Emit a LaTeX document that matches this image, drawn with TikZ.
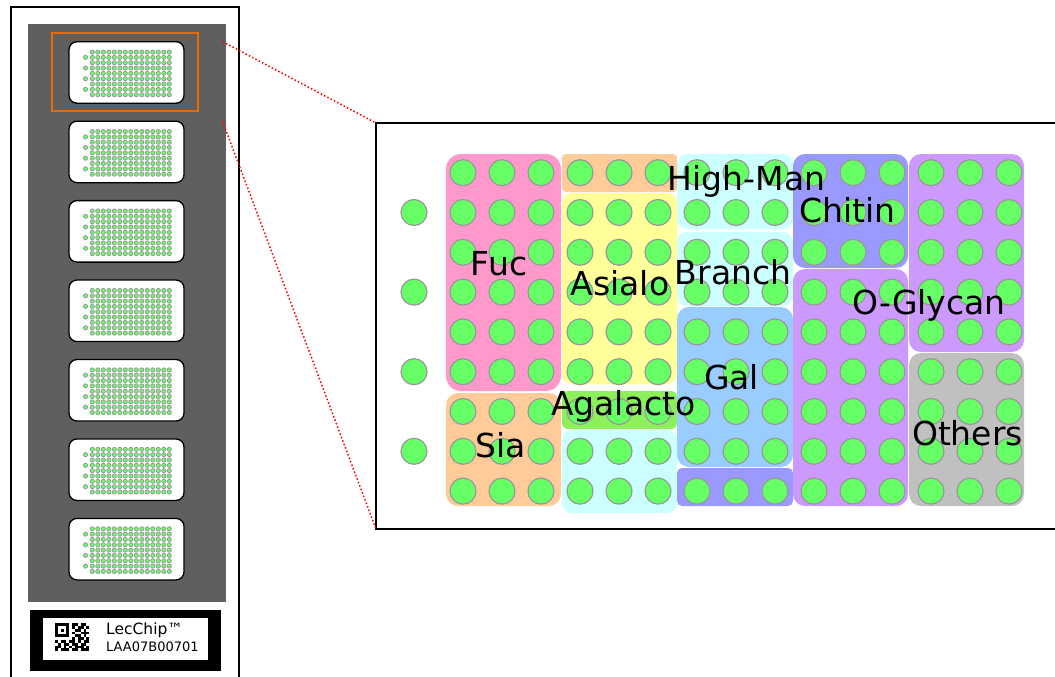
\documentclass[tikz,border=0pt]{standalone}
\usepackage{fontspec}
\setmainfont{DejaVu Sans}
\definecolor{dotgreen}{HTML}{66FF66}
\definecolor{dotgray}{HTML}{999999}
\definecolor{slidegray}{HTML}{5F5F5F}
\definecolor{orangeline}{HTML}{E46C0A}
\definecolor{cpink}{HTML}{FF99CC}
\definecolor{cpeach}{HTML}{FFCC99}
\definecolor{cyellow}{HTML}{FFFF99}
\definecolor{ccyan}{HTML}{CCFFFF}
\definecolor{cagal}{HTML}{8CF05A}
\definecolor{cblue}{HTML}{99CCFF}
\definecolor{cperi}{HTML}{9999FF}
\definecolor{clav}{HTML}{CC99FF}
\definecolor{cgray}{HTML}{C0C0C0}
\begin{document}
\begin{tikzpicture}[x=1pt,y=-1pt,
  dot/.style={fill=dotgreen,draw=dotgray,line width=1.2pt},
  mini/.style={fill=dotgreen,draw=dotgray,line width=0.8pt},
  lbl/.style={anchor=base,inner sep=0pt,font=\fontsize{33}{33}\selectfont},
  slidebox/.style={fill=white,draw=black,line width=1.3pt,rounded corners=8pt},
  link/.style={red,line width=1.5pt,dash pattern=on 1.5pt off 2.2pt},
  region/.style={draw=none}
]
\useasboundingbox (0,0) rectangle (1055,677);
\fill[white] (0,0) rectangle (1055,677);

% ---------- left: slide holder ----------
\draw[line width=2pt] (11,677) -- (11,7) -- (239,7) -- (239,677);
\fill[slidegray] (28,24) rectangle (226,602);
\draw[orangeline,line width=2pt] (52,33) rectangle (198,111);

\foreach \k in {0,...,6} {
  \pgfmathsetmacro\yk{41.7+79.45*\k}
  \draw[slidebox] (69,\yk) rectangle (184,{\yk+61.5});
  \foreach \j in {0,...,3}
    \draw[mini] (85.5,{\yk+15.7+10.67*\j}) circle[radius=2.1pt];
  \foreach \c in {0,...,14}
    \foreach \r in {0,...,8}
      \draw[mini] ({92.3+5.5*\c},{\yk+10.4+5.33*\r}) circle[radius=2.1pt];
}

% label plate
\fill[black] (30,610) rectangle (220.7,671);
\fill[white] (42.7,618.3) rectangle (208.3,660);
\foreach \r/\cols in {0/{0,1,2,3,4,6,7,9,10},1/{0,4,6,8,9,11},2/{0,2,4,7,8,10},
  3/{0,4,6,9,10,11},4/{0,1,2,3,4,7,8,10},5/{6,8,9,11},6/{0,2,3,5,6,8,10,11},
  7/{1,3,4,6,7,9,10},8/{0,1,3,5,7,8,9,11},9/{0,2,3,4,6,7,9,10,11}}
  \foreach \c in \cols
    \fill[black] ({55+\c*2.86},{623.3+\r*2.78}) rectangle ++(2.86,2.78);
\node[anchor=base west,inner sep=0pt,font=\fontsize{15.5}{15.5}\selectfont] (chipname) at (106,634.3) {LecChip™};
\node[anchor=base west,inner sep=0pt,font=\fontsize{13}{13}\selectfont] (chipid) at (106,651.7) {LAA07B00701};

% ---------- right: zoomed array ----------
\coordinate (z1) at (222.7,41.7);
\coordinate (z2) at (222.7,121.7);
\coordinate (pnw) at (376,123);
\coordinate (psw) at (376,529);
\draw[line width=1.5pt] (1055,123) -- (pnw) -- (psw) -- (1055,529);
\draw[link] (z1) -- (pnw);
\draw[link] (z2) -- (psw);

% regions
\fill[cpink,rounded corners=15pt] (446,154) rectangle (561,391);
\fill[cpeach,rounded corners=12pt] (446,393) rectangle (561,506);
\fill[cpeach,rounded corners=4pt] (562,154) rectangle (677,192);
\fill[cyellow,rounded corners=10pt] (562,193) rectangle (677,384);
\fill[cagal,rounded corners=6pt] (562,391) rectangle (677,429);
\fill[ccyan,rounded corners=10pt] (562,430) rectangle (677,513);
\fill[ccyan,rounded corners=10pt] (677,154) rectangle (793,229);
\fill[ccyan,rounded corners=10pt] (677,232) rectangle (793,306);
\fill[cblue,rounded corners=12pt] (677,307) rectangle (793,467);
\fill[cperi,rounded corners=5pt] (677,468) rectangle (793,506);
\fill[cperi,rounded corners=12pt] (793,154) rectangle (908,268);
\fill[clav,rounded corners=12pt] (793,269) rectangle (908,506);
\fill[clav,rounded corners=12pt] (909,154) rectangle (1024,352);
\fill[cgray,rounded corners=12pt] (909,353) rectangle (1024,506);

% dots
\foreach \r in {1,3,5,7}
  \draw[dot] (414,{172.7+39.8*\r}) circle[radius=13pt];
\foreach \c in {0,...,14}
  \foreach \r in {0,...,8}
    \draw[dot] ({463+39*\c},{172.7+39.8*\r}) circle[radius=13pt];

% labels
\node[lbl] (fuc) at (499,275.7) {Fuc};
\node[lbl] (asialo) at (620,295) {Asialo};
\node[lbl] (highman) at (746.5,190) {High-Man};
\node[lbl] (branch) at (733,284) {Branch};
\node[lbl] (chitin) at (847.5,222.7) {Chitin};
\node[lbl] (oglycan) at (929,314) {O-Glycan};
\node[lbl] (gal) at (731.5,389) {Gal};
\node[lbl] (agalacto) at (623.3,415.7) {Agalacto};
\node[lbl] (sia) at (501,457) {Sia};
\node[lbl] (others) at (967.5,445) {Others};
\end{tikzpicture}
\end{document}
